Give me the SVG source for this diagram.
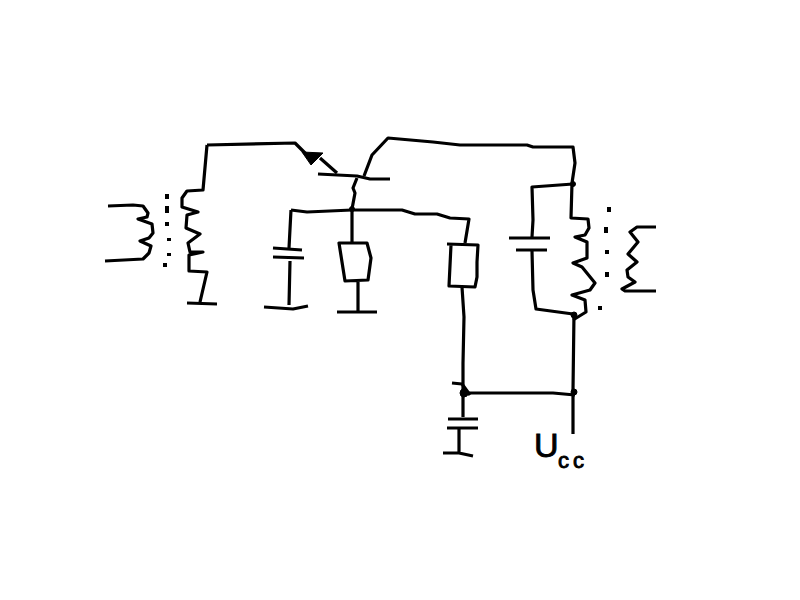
<svg xmlns="http://www.w3.org/2000/svg" width="800" height="600" viewBox="0 0 800 600">
<style>
.w{fill:none;stroke:#000;stroke-width:3.2;stroke-linejoin:round}
.p{fill:none;stroke:#000;stroke-width:4}
.d{fill:#000;stroke:#000}
text{font-family:"Liberation Sans",Arial,sans-serif;fill:#000;stroke:#000;stroke-width:.9}
</style>
<rect width="800" height="600" fill="#fff"/>
<g id="connectors">
<path class="w" d="M207 145L295 143L307 155M320 158L337 173"/>
<path class="w" d="M364 176L372 155L388 138L433 142L460 145L527 145L533 147L573 147L575 163L572 183"/>
<path class="w" d="M357 178L353 188L355 193L352 209"/>
<path class="w" d="M291 210L307 212L352 210L402 210L415 214L437 214L450 218L469 219L465 243"/>
<path class="w" d="M352 209V243"/>
<path class="w" d="M573 184L532 187L533 220L532 237"/>
<path class="w" d="M532 251L533 290L536 309L573 314"/>
<path class="w" d="M574 313L573 390L573 434"/>
<path class="w" d="M463 393H553L575 395"/>
<path class="w" d="M462 287L464 317L463 363L463 417"/>
<path class="w" d="M452 383L462 384L470 395"/>
</g>
<g id="input-winding"><path class="w" d="M108 206L133 205L143 206L148 213L147 217L138 219L152 224L153 233L149 238L140 241L151 246L149 253L143 259L105 261"/></g>
<g id="core-left"><path class="p" d="M167 194V199M167 206V213M167 222V226M169 238V241M169 253V256M165 263V267"/></g>
<g id="primary-coil"><path class="w" d="M207 145L203 190L187 191L182 198L182 207L198 212L187 215L186 228L200 234L188 243L190 252L203 252L189 255L189 271L207 272L200 302M187 303L217 304"/></g>
<g id="transistor">
<path class="w" d="M318 174L357 176L370 179L390 179"/>
<path class="d" d="M302 152L323 153L311 165Z"/>
</g>
<g id="capacitor-1"><path class="w" d="M291 210L289 248M273 248L302 250M273 257L304 258M290 261L289 305M264 307L293 309L308 306"/></g>
<g id="resistor-1"><path class="w" d="M339 243H367L371 258L368 280L345 281Z M358 281V312M337 312H377"/></g>
<g id="resistor-2"><path class="w" d="M447 244L478 245L477 262L477 277L475 287L449 286L451 245"/></g>
<g id="capacitor-2"><path class="w" d="M509 238H550M516 250H547"/></g>
<g id="output-coil"><path class="w" d="M572 183L571 218L588 219L589 228L585 235L575 237L587 242L587 258L573 263L582 267L595 283L590 290L572 295L585 300L586 312L573 320"/></g>
<g id="core-right"><path class="p" d="M609 207V212M606 227V233M607 250V254M607 272V277M600 306V310"/></g>
<g id="output-winding"><path class="w" d="M656 227L637 227L630 232L638 242L628 254L637 262L627 270L628 277L635 282L622 289L625 291L656 291"/></g>
<g id="capacitor-3"><path class="w" d="M448 419H478M447 428H478M459 428V453M443 453H459L473 456"/></g>
<g id="junctions">
<circle class="d" cx="352" cy="209" r="2.5"/>
<circle class="d" cx="573" cy="184" r="2.5"/>
<circle class="d" cx="574" cy="315" r="3"/>
<circle class="d" cx="464" cy="393" r="4"/>
<circle class="d" cx="574" cy="392" r="3"/>
</g>
<g id="label-ucc"><text x="534" y="457" font-size="34">U</text><text x="558" y="468" font-size="22" letter-spacing="4">cc</text></g>
</svg>
